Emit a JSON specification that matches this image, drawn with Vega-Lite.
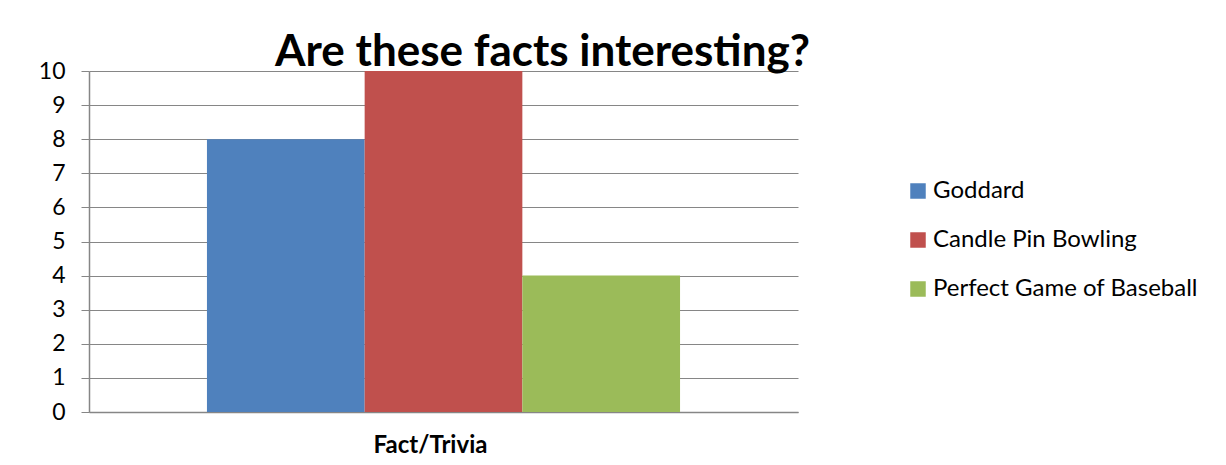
{
  "$schema": "https://vega.github.io/schema/vega-lite/v6.json",
  "width": 709,
  "height": 341,
  "autosize": {"type": "none"},
  "padding": {"left": 89, "top": 71, "right": 428, "bottom": 53},
  "background": "white",
  "title": {
    "text": "Are these facts interesting?",
    "font": "Lato",
    "fontSize": 44,
    "fontWeight": "bold",
    "color": "black",
    "anchor": "middle",
    "frame": "group",
    "dx": 99,
    "baseline": "alphabetic",
    "offset": 5,
    "dy": 55
  },
  "data": {
    "values": [
      {"category": "Fact/Trivia", "series": "Goddard", "value": 8},
      {"category": "Fact/Trivia", "series": "Candle Pin Bowling", "value": 10},
      {"category": "Fact/Trivia", "series": "Perfect Game of Baseball", "value": 4}
    ]
  },
  "mark": {"type": "bar"},
  "encoding": {
    "x": {
      "field": "series",
      "type": "nominal",
      "sort": ["Goddard", "Candle Pin Bowling", "Perfect Game of Baseball"],
      "scale": {"paddingInner": 0, "paddingOuter": 0.748},
      "axis": {
        "title": "Fact/Trivia",
        "labels": false,
        "ticks": false,
        "domainColor": "#868686",
        "domainWidth": 1.5,
        "titleFont": "Lato",
        "titleFontSize": 24,
        "titleFontWeight": "bold",
        "titleColor": "black",
        "titlePadding": 21,
        "titleX": 341
      }
    },
    "y": {
      "field": "value",
      "type": "quantitative",
      "scale": {"domain": [0, 10], "nice": false},
      "axis": {
        "title": null,
        "values": [0, 1, 2, 3, 4, 5, 6, 7, 8, 9, 10],
        "grid": true,
        "gridColor": "#868686",
        "gridWidth": 1,
        "domainColor": "#868686",
        "domainWidth": 1.5,
        "tickColor": "#868686",
        "tickSize": 8,
        "labelFont": "Lato",
        "labelFontSize": 23,
        "labelColor": "black",
        "labelPadding": 16
      }
    },
    "color": {
      "field": "series",
      "type": "nominal",
      "sort": ["Goddard", "Candle Pin Bowling", "Perfect Game of Baseball"],
      "scale": {
        "domain": ["Goddard", "Candle Pin Bowling", "Perfect Game of Baseball"],
        "range": ["#4F81BD", "#C0504D", "#9BBB59"]
      },
      "legend": {
        "title": null,
        "orient": "none",
        "legendX": 817,
        "legendY": 108,
        "symbolType": "square",
        "symbolSize": 240,
        "symbolStrokeWidth": 0,
        "labelFont": "Lato",
        "labelFontSize": 24,
        "labelLimit": 400,
        "labelColor": "black",
        "labelOffset": 3,
        "rowPadding": 25
      }
    }
  },
  "config": {
    "view": {"stroke": null}
  }
}
